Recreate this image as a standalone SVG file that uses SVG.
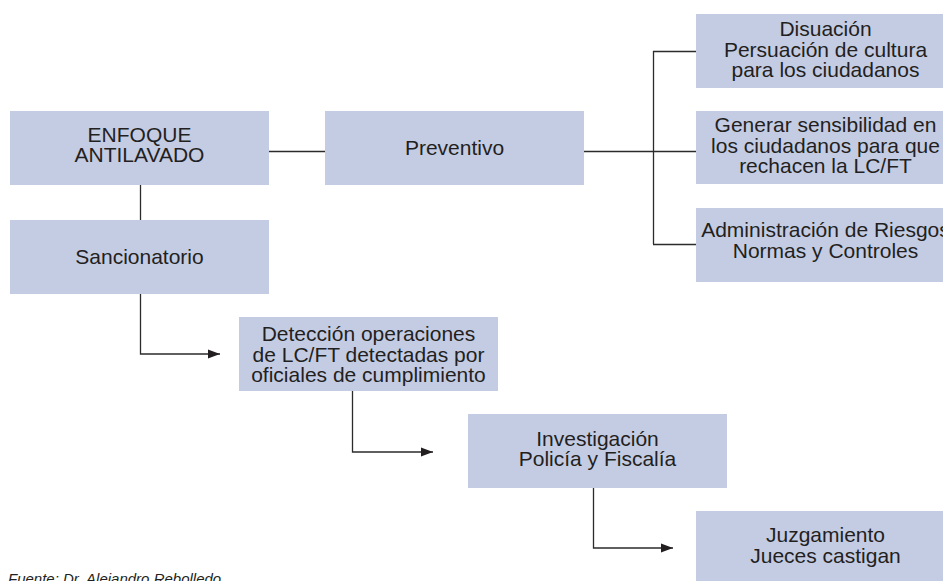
<svg xmlns="http://www.w3.org/2000/svg" width="943" height="581" viewBox="0 0 943 581">
  <defs>
    <marker id="arr" markerWidth="12" markerHeight="10" refX="12" refY="5" orient="auto" markerUnits="userSpaceOnUse">
      <polygon points="0,0.5 12,5 0,9.5" fill="#231f20"/>
    </marker>
    <style>
      .box { fill: #c4cce4; }
      .t { font-family: "Liberation Sans", Arial, Helvetica, sans-serif; font-size: 21px; fill: #231f20; text-anchor: middle; }
      .ln { fill: none; stroke: #2b2b2b; stroke-width: 1.3; }
      .src { font-family: "Liberation Sans", Arial, sans-serif; font-size: 15px; font-style: italic; fill: #231f20; }
    </style>
  </defs>
  <rect width="943" height="581" fill="#ffffff"/>

  <g id="connectors">
    <line class="ln" x1="269" y1="151.5" x2="325" y2="151.5"/>
    <line class="ln" x1="584" y1="151.5" x2="696" y2="151.5"/>
    <line class="ln" x1="653.5" y1="51" x2="653.5" y2="244"/>
    <line class="ln" x1="653" y1="51.5" x2="696" y2="51.5"/>
    <line class="ln" x1="653" y1="244.5" x2="696" y2="244.5"/>
    <line class="ln" x1="140.5" y1="185" x2="140.5" y2="220"/>
    <polyline class="ln" points="140.5,294 140.5,354 220,354" marker-end="url(#arr)"/>
    <polyline class="ln" points="352.5,391 352.5,452 433,452" marker-end="url(#arr)"/>
    <polyline class="ln" points="593.5,488 593.5,548 673,548" marker-end="url(#arr)"/>
  </g>

  <g id="enfoque">
    <rect class="box" x="10" y="111" width="259" height="74"/>
    <text class="t" x="139.5" y="142">ENFOQUE</text>
    <text class="t" x="139.5" y="162">ANTILAVADO</text>
  </g>

  <g id="preventivo">
    <rect class="box" x="325" y="111" width="259" height="74"/>
    <text class="t" x="454.5" y="155">Preventivo</text>
  </g>

  <g id="sancionatorio">
    <rect class="box" x="10" y="220" width="259" height="74"/>
    <text class="t" x="139.5" y="264">Sancionatorio</text>
  </g>

  <g id="disuacion">
    <rect class="box" x="696" y="14" width="259" height="74"/>
    <text class="t" x="825.5" y="36">Disuación</text>
    <text class="t" x="825.5" y="57">Persuación de cultura</text>
    <text class="t" x="825.5" y="77">para los ciudadanos</text>
  </g>

  <g id="generar">
    <rect class="box" x="696" y="111" width="259" height="73"/>
    <text class="t" x="825.5" y="132">Generar sensibilidad en</text>
    <text class="t" x="825.5" y="152.5">los ciudadanos para que</text>
    <text class="t" x="825.5" y="173">rechacen la LC/FT</text>
  </g>

  <g id="administracion">
    <rect class="box" x="696" y="208" width="259" height="74"/>
    <text class="t" x="825.5" y="236.5">Administración de Riesgos</text>
    <text class="t" x="825.5" y="257.5">Normas y Controles</text>
  </g>

  <g id="deteccion">
    <rect class="box" x="239" y="317" width="259" height="74"/>
    <text class="t" x="368.5" y="341">Detección operaciones</text>
    <text class="t" x="368.5" y="362">de LC/FT detectadas por</text>
    <text class="t" x="368.5" y="382">oficiales de cumplimiento</text>
  </g>

  <g id="investigacion">
    <rect class="box" x="468" y="414" width="259" height="74"/>
    <text class="t" x="597.5" y="446">Investigación</text>
    <text class="t" x="597.5" y="466">Policía y Fiscalía</text>
  </g>

  <g id="juzgamiento">
    <rect class="box" x="696" y="511" width="259" height="74"/>
    <text class="t" x="825.5" y="542">Juzgamiento</text>
    <text class="t" x="825.5" y="563">Jueces castigan</text>
  </g>

  <text class="src" x="8" y="584">Fuente: Dr. Alejandro Rebolledo</text>
</svg>
